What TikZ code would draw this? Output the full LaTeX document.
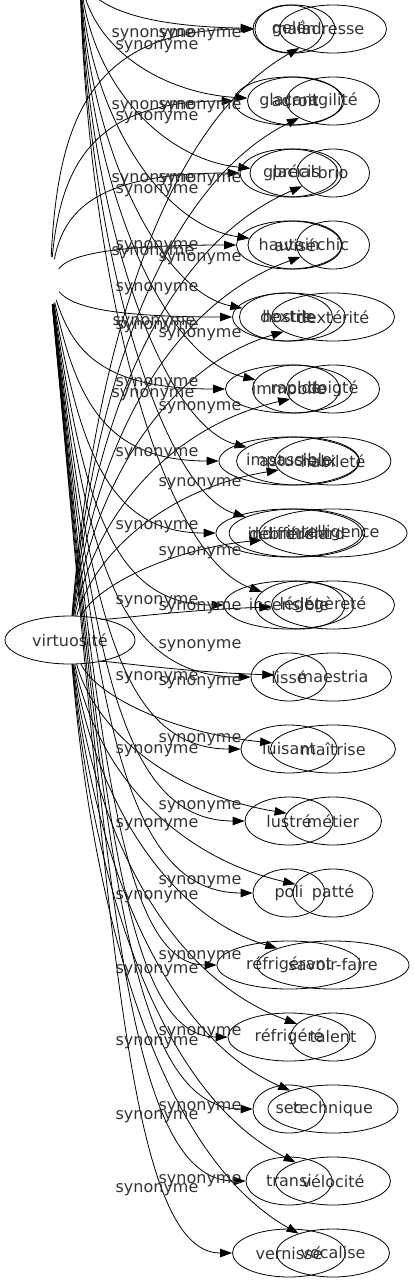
\documentclass[tikz,border=0pt]{standalone}
\usepackage{fontspec}
\setmainfont{DejaVu Sans}
\usetikzlibrary{shapes.geometric,arrows.meta}
\begin{document}
\begin{tikzpicture}[x=1pt,y=-1pt,
  word/.style={draw=black, line width=0.8pt, ellipse, inner sep=0pt, minimum height=48pt, font=\fontsize{16}{19}\selectfont, text=black!80},
  lbl/.style={inner sep=0pt, font=\fontsize{16}{19}\selectfont, text=black!80},
  hid/.style={ellipse, inner sep=0pt, minimum width=20pt, minimum height=48pt},
  syn/.style={draw=black, line width=0.8pt, -{Triangle[length=12pt,width=8.5pt]}}]
\useasboundingbox (0,0) rectangle (413,1283);

% source nodes
\node[word, minimum width=130pt] (V) at (70,640) {virtuosité};
\node[hid] (G) at (50,281) {};
\node[inner sep=0pt, minimum size=0pt] (T) at (80,-30) {};

% glacé column and virtuosité column
\foreach \i/\gw/\g/\vw/\v in {
  1/68/gelé/107/adresse,
  2/110/glaçant/93/agilité,
  3/98/glacial/73/brio,
  4/105/hautain/73/chic,
  5/113/hostile/123/dextérité,
  6/127/immobile/93/doigté,
  7/140/impassible/116/habileté,
  8/146/indifférent/148/intelligence,
  9/130/insensible/123/légèreté,
  10/76/lissé/117/maestria,
  11/96/luisant/125/maîtrise,
  12/88/lustré/97/métier,
  13/72/poli/80/patté,
  14/144/réfrigérant/152/savoir-faire,
  15/122/réfrigéré/85/talent,
  16/72/sec/130/technique,
  17/86/transi/115/vélocité,
  18/113/vernissé/113/vocalise}{
  \pgfmathsetmacro\yy{29+72*(\i-1)}
  \node[word, minimum width=\gw pt] (g\i) at (289,\yy) {\g};
  \node[word, minimum width=\vw pt] (v\i) at (333,\yy) {\v};
}

% third column
\foreach \i/\tx/\tw/\t in {
  1/294/82/malin,
  2/295/95/adroit,
  3/296/92/précis,
  4/295/94/avisé,
  5/286/93/dextre,
  6/296/87/rapide,
  7/298/123/astucieux,
  8/297/129/débrouillard,
  9/300/90/léger}{
  \pgfmathsetmacro\yy{29+72*(\i-1)}
  \node[word, minimum width=\tw pt] (t\i) at (\tx,\yy) {\t};
}

% edges from virtuosité and from the hidden source
\foreach \i in {1,...,18}{
  \pgfmathsetmacro\yy{29+72*(\i-1)}
  \pgfmathsetmacro\ca{640+0.5*(\yy-640)}
  \pgfmathsetmacro\cb{\yy-0.15*(\yy-640)}
  \draw[syn] (V) .. controls (95,\ca) and (170,\cb) .. (v\i);
  \pgfmathsetmacro\gxa{55+3*\i}
  \pgfmathsetmacro\gya{281+0.65*(\yy-281)}
  \pgfmathsetmacro\gxb{90+2*\i}
  \draw[syn] (G) .. controls (\gxa,\gya) and (\gxb,\yy) .. (g\i);
}

% edges from the source above the picture
\foreach \i in {1,...,9}{
  \pgfmathsetmacro\yy{29+72*(\i-1)}
  \pgfmathsetmacro\ta{0.45*\yy}
  \pgfmathsetmacro\tb{0.92*\yy}
  \draw[syn] (T) .. controls (85,\ta) and (160,\tb) .. (t\i);
}

% edge labels
\foreach [count=\n] \p in {
  (153,35),(200,35),(157,47),
  (153,107),(200,107),(157,118),
  (153,180),(200,180),(157,191),
  (157,247),(153,253),(200,259),
  (157,289),
  (154,323),(157,327),(200,335),
  (157,384),(153,395),(200,408),
  (157,454),(200,484),
  (157,527),(200,553),
  (157,602),(200,608),
  (200,646),(157,678),(200,683),
  (200,740),(157,751),
  (200,807),(157,825),
  (200,882),(157,897),
  (200,957),(157,971),
  (200,1033),(157,1043),
  (200,1108),(157,1117),
  (200,1181),(157,1190)}{
  \node[lbl] (l\n) at \p {synonyme};
}
\end{tikzpicture}
\end{document}
